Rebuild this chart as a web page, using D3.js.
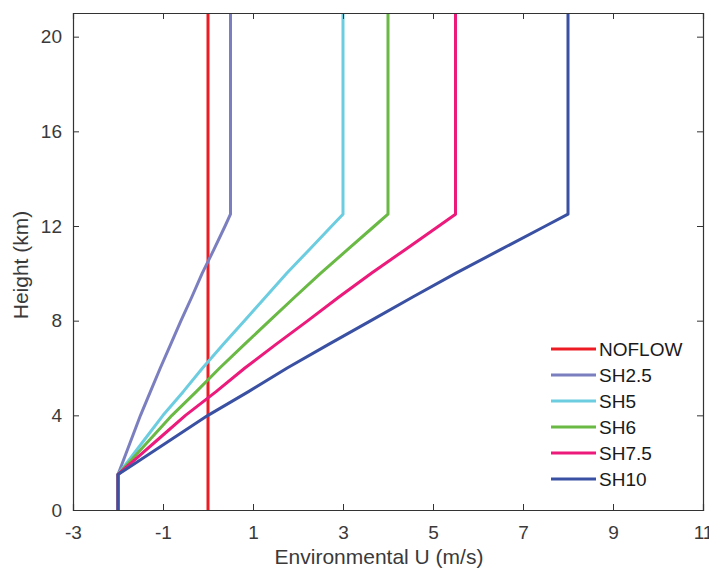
<!DOCTYPE html>
<html>
<head>
<meta charset="utf-8">
<script src="https://cdn.jsdelivr.net/npm/d3@7"></script>
<style>
  body { margin: 0; background: #fff; }
  text { font-family: "Liberation Sans", Arial, sans-serif; }
</style>
</head>
<body>
<div id="chart"></div>
<script>
// Environmental wind profiles: height vs U for each shear case

const heights = [0, 1.5, 2, 3, 4, 5, 6, 7, 8, 9, 10, 11, 12, 12.5, 21];

const seriesNames = ["NOFLOW", "SH2.5", "SH5", "SH6", "SH7.5", "SH10"];
const noflow = [0, 0, 0, 0, 0, 0, 0, 0, 0, 0, 0, 0, 0, 0, 0];
const sh25 = [-2, -2, -1.9, -1.7, -1.5, -1.28, -1.06, -0.83, -0.6, -0.36, -0.13, 0.13, 0.38, 0.5, 0.5];
const sh5 = [-2, -2, -1.8, -1.4, -1.0, -0.55, -0.12, 0.34, 0.81, 1.28, 1.75, 2.25, 2.75, 3, 3];
const sh6 = [-2, -2, -1.76, -1.28, -0.8, -0.26, 0.26, 0.81, 1.37, 1.93, 2.5, 3.1, 3.7, 4, 4];
const sh75 = [-2, -2, -1.7, -1.1, -0.5, 0.18, 0.82, 1.51, 2.22, 2.91, 3.63, 4.38, 5.13, 5.5, 5.5];
const sh10 = [-2, -2, -1.6, -0.8, 0, 0.9, 1.76, 2.68, 3.62, 4.55, 5.5, 6.5, 7.5, 8, 8];

const xTicks = [-3, -1, 1, 3, 5, 7, 9, 11];
const yTicks = [0, 4, 8, 12, 16, 20];

const colors = ["#ed1c24", "#7b7fc0", "#6dcde0", "#69b944", "#ec1a7b", "#3a51a3"];

const width = 709, height = 569;
const margin = { left: 73, right: 6, top: 13, bottom: 59 };

const svg = d3.select("#chart")
    .append("svg")
    .attr("width", width)
    .attr("height", height);

const x = d3.scaleLinear().domain([-3, 11]).range([margin.left, width - margin.right]);
const y = d3.scaleLinear().domain([0, 21]).range([height - margin.bottom, margin.top]);

const axisColor = "#333333";
const labelColor = "#3a3a3a";

// Lines
const allSeries = [noflow, sh25, sh5, sh6, sh75, sh10];
const line = d3.line()
    .x(d => x(d[0]))
    .y(d => y(d[1]));

allSeries.forEach((vals, i) => {
    svg.append("path")
        .datum(vals.map((u, j) => [u, heights[j]]))
        .attr("d", line)
        .attr("fill", "none")
        .attr("stroke", colors[i])
        .attr("stroke-width", 3)
        .attr("stroke-linejoin", "round");
});

// Axes (box with inward ticks)
const tickLen = 6;
svg.append("g")
    .attr("transform", `translate(0,${y(0)})`)
    .call(d3.axisBottom(x).tickValues(xTicks).tickSize(-tickLen).tickPadding(16).tickFormat(d => String(d)));
svg.append("g")
    .attr("transform", `translate(0,${y(21)})`)
    .call(d3.axisTop(x).tickValues(xTicks).tickSize(-tickLen).tickFormat(""));
svg.append("g")
    .attr("transform", `translate(${x(-3)},0)`)
    .call(d3.axisLeft(y).tickValues(yTicks).tickSize(-tickLen).tickPadding(11));
svg.append("g")
    .attr("transform", `translate(${x(11)},0)`)
    .call(d3.axisRight(y).tickValues(yTicks).tickSize(-tickLen).tickFormat(""));

svg.selectAll(".domain").attr("stroke", axisColor).attr("stroke-width", 1.2);
svg.selectAll(".tick line").attr("stroke", axisColor).attr("stroke-width", 1);
svg.selectAll(".tick text")
    .attr("fill", labelColor)
    .style("font-size", "19px");

// Axis labels
svg.append("text")
    .attr("x", 379)
    .attr("y", 564)
    .attr("text-anchor", "middle")
    .attr("fill", labelColor)
    .style("font-size", "21px")
    .text("Environmental U (m/s)");

svg.append("text")
    .attr("transform", "translate(27.5,265) rotate(-90)")
    .attr("text-anchor", "middle")
    .attr("fill", labelColor)
    .style("font-size", "21px")
    .text("Height (km)");

// Legend
const legend = svg.append("g")
    .attr("transform", "translate(551,349)");

seriesNames.forEach((name, i) => {
    legend.append("line")
        .attr("x1", 0)
        .attr("x2", 45)
        .attr("y1", i * 26)
        .attr("y2", i * 26)
        .attr("stroke", colors[i])
        .attr("stroke-width", 3);
    legend.append("text")
        .attr("x", 48)
        .attr("y", i * 26 + 7)
        .attr("fill", "#1a1a1a")
        .style("font-size", "19px")
        .text(name);
});
</script>
</body>
</html>
